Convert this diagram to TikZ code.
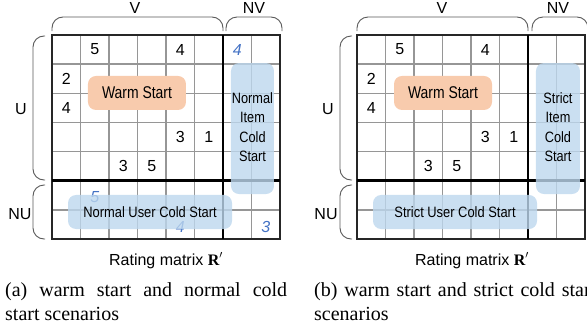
\documentclass[tikz,border=0pt]{standalone}
\usepackage{fontspec}
\setmainfont{Liberation Serif}
\setsansfont{Liberation Sans}
\definecolor{warmfill}{HTML}{F8CBAD}
\definecolor{coldfill}{HTML}{BDD7EE}
\definecolor{bluenum}{HTML}{4472C4}
\definecolor{gridgray}{HTML}{969696}
\newcommand{\squeezed}[2]{\scalebox{#1}[1]{#2}}
\tikzset{
  gridline/.style={draw=gridgray, line width=1.5pt},
  outerline/.style={draw=black!85, line width=2pt},
  sepline/.style={draw=black, line width=2.8pt},
  bracket/.style={draw=black!65, line width=0.9pt, rounded corners=11pt},
  num/.style={font=\sffamily\fontsize{16}{19}\selectfont, inner sep=0pt},
  bnum/.style={inner sep=0pt, text=bluenum, font=\sffamily\itshape\fontsize{16}{19}\selectfont},
  setlabel/.style={font=\sffamily\fontsize{16}{19}\selectfont, inner sep=0pt, anchor=base},
  warmbox/.style={fill=warmfill, rounded corners=8pt, inner sep=0pt,
    minimum width=98pt, minimum height=34pt, font=\sffamily\fontsize{17}{20}\selectfont},
  coldbox/.style={fill=coldfill, fill opacity=0.8, text opacity=1, rounded corners=8pt,
    inner sep=0pt, font=\sffamily\fontsize{15}{19.5}\selectfont},
  titlelabel/.style={font=\sffamily\fontsize{16}{19}\selectfont, inner sep=0pt, anchor=base},
  caption/.style={font=\rmfamily\fontsize{20}{24}\selectfont, inner sep=0pt, anchor=base west},
}
\begin{document}
\begin{tikzpicture}[x=1pt, y=-1pt]
\useasboundingbox (0,0) rectangle (587,327);

% ---------------- panel (a) ----------------
\draw[bracket] (52,31) -- (52,17) -- (223,17) -- (223,31);
\draw[bracket] (226,31) -- (226,17) -- (282,17) -- (282,31);
\draw[bracket] (45,36) -- (33,36) -- (33,180) -- (45,180);
\draw[bracket] (45,185) -- (33,185) -- (33,239) -- (45,239);
\node[setlabel] (a-V) at (135,13) {V};
\node[setlabel] (a-NV) at (254,13) {NV};
\node[setlabel] (a-U) at (21,114) {U};
\node[setlabel] (a-NU) at (20,219) {NU};

\begin{scope}[shift={(52,35)}, x=28.5pt, y=-29.14pt]
  \foreach \i in {1,...,7} \draw[gridline] (\i,0) -- (\i,7);
  \foreach \j in {1,...,6} \draw[gridline] (0,\j) -- (8,\j);
  \draw[outerline] (0,0) rectangle (8,7);
  \draw[sepline] (6,0) -- (6,7);
  \draw[sepline] (0,5) -- (8,5);
  \node[warmbox] (a-warm) at (2.982,1.99) {\squeezed{0.82}{Warm Start}};
  \node[num] (a-n1) at (1.5,0.5) {5};
  \node[num] (a-n2) at (4.5,0.5) {4};
  \node[num] (a-n3) at (0.5,1.5) {2};
  \node[num] (a-n4) at (0.5,2.5) {4};
  \node[num] (a-n5) at (4.5,3.5) {3};
  \node[num] (a-n6) at (5.5,3.5) {1};
  \node[num] (a-n7) at (2.5,4.5) {3};
  \node[num] (a-n8) at (3.5,4.5) {5};
  \node[bnum] (a-b1) at (6.5,0.5) {4};
  \node[bnum] (a-b2) at (1.5,5.55) {5};
  \node[bnum] (a-b3) at (4.5,6.6) {4};
  \node[bnum] (a-b4) at (7.5,6.6) {3};
  \node[coldbox, minimum width=43pt, minimum height=131pt] (a-item) at (7.035,3.209)
    {\squeezed{0.85}{\begin{tabular}{@{}c@{}}Normal\\Item\\Cold\\Start\end{tabular}}};
  \node[coldbox, minimum width=164pt, minimum height=34pt] (a-user) at (3.439,6.074)
    {\squeezed{0.86}{Normal User Cold Start}};
\end{scope}
\node[titlelabel] (a-title) at (166,265) {Rating matrix {\rmfamily\bfseries R}$'$};
\node[caption] (a-cap1) at (5,296) {\makebox[282pt][s]{(a) warm start and normal cold}};
\node[caption] (a-cap2) at (5,320) {start scenarios};

% ---------------- panel (b) ----------------
\draw[bracket] (357,31) -- (357,17) -- (528,17) -- (528,31);
\draw[bracket] (532,31) -- (532,17) -- (588,17) -- (588,31);
\draw[bracket] (352,36) -- (340,36) -- (340,180) -- (352,180);
\draw[bracket] (352,185) -- (340,185) -- (340,239) -- (352,239);
\node[setlabel] (b-V) at (442,13) {V};
\node[setlabel] (b-NV) at (558,13) {NV};
\node[setlabel] (b-U) at (328,114) {U};
\node[setlabel] (b-NU) at (326,219) {NU};

\begin{scope}[shift={(357,35)}, x=28.5pt, y=-29.14pt]
  \foreach \i in {1,...,7} \draw[gridline] (\i,0) -- (\i,7);
  \foreach \j in {1,...,6} \draw[gridline] (0,\j) -- (8,\j);
  \draw[outerline] (0,0) rectangle (8,7);
  \draw[sepline] (6,0) -- (6,7);
  \draw[sepline] (0,5) -- (8,5);
  \node[warmbox] (b-warm) at (3.018,1.99) {\squeezed{0.82}{Warm Start}};
  \node[num] (b-n1) at (1.5,0.5) {5};
  \node[num] (b-n2) at (4.5,0.5) {4};
  \node[num] (b-n3) at (0.5,1.5) {2};
  \node[num] (b-n4) at (0.5,2.5) {4};
  \node[num] (b-n5) at (4.5,3.5) {3};
  \node[num] (b-n6) at (5.5,3.5) {1};
  \node[num] (b-n7) at (2.5,4.5) {3};
  \node[num] (b-n8) at (3.5,4.5) {5};
  \node[coldbox, minimum width=44pt, minimum height=131pt] (b-item) at (7.052,3.209)
    {\squeezed{0.85}{\begin{tabular}{@{}c@{}}Strict\\Item\\Cold\\Start\end{tabular}}};
  \node[coldbox, minimum width=164pt, minimum height=34pt] (b-user) at (3.44,6.074)
    {\squeezed{0.86}{Strict User Cold Start}};
\end{scope}
\node[titlelabel] (b-title) at (472,265) {Rating matrix {\rmfamily\bfseries R}$'$};
\node[caption] (b-cap1) at (314,296) {\makebox[282pt][s]{(b) warm start and strict cold start}};
\node[caption] (b-cap2) at (314,320) {scenarios};
\end{tikzpicture}
\end{document}
